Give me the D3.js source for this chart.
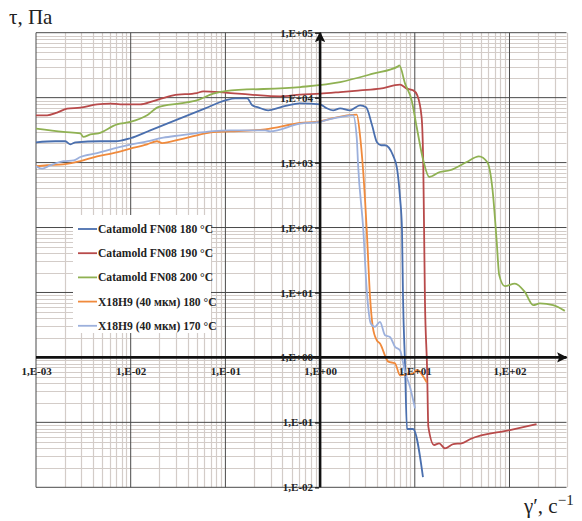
<!DOCTYPE html>
<html>
<head>
<meta charset="utf-8">
<script src="https://cdn.jsdelivr.net/npm/d3@7"></script>
<style>
  body { margin: 0; background: #fff; }
  .tick text { font-family: 'Liberation Serif', serif; font-weight: bold; font-size: 11px; fill: #222; }
</style>
</head>
<body>
<div class="canvas"></div>
<script>
// tick labels
const xTickValues = [1e-3, 1e-2, 1e-1, 1, 1e1, 1e2];
const xTickLabels = ['1,E-03', '1,E-02', '1,E-01', '1,E+00', '1,E+01', '1,E+02'];
const yTickValues = [1e-2, 1e-1, 1, 1e1, 1e2, 1e3, 1e4, 1e5];
const yTickLabels = ['1,E-02', '1,E-01', '1,E+00', '1,E+01', '1,E+02', '1,E+03', '1,E+04', '1,E+05'];

const seriesNames = [
  'Catamold FN08 180 °C',
  'Catamold FN08 190 °C',
  'Catamold FN08 200 °C',
  'X18H9 (40 мкм) 180 °C',
  'X18H9 (40 мкм) 170 °C'
];

// [shear rate 1/s, shear stress Pa]
const catamold180 = [
  [0.001, 2050], [0.0016, 2130], [0.00204, 2130], [0.00231, 1910], [0.00261, 2050],
  [0.00478, 2130], [0.00689, 2130], [0.0099, 2370], [0.0161, 3140], [0.0333, 4800],
  [0.0612, 6840], [0.1, 9080], [0.127, 9750], [0.17, 9750], [0.192, 7620],
  [0.222, 7090], [0.283, 6380], [0.379, 7090], [0.615, 8170], [1.0, 7890],
  [1.13, 7090], [1.37, 6380], [1.63, 6840], [2.07, 6380], [2.64, 7620],
  [3.06, 7090], [3.54, 3750], [3.99, 2050], [4.4, 1850], [4.85, 1850],
  [5.89, 1290], [6.49, 817], [6.98, 292], [7.33, 91], [7.51, 8.5],
  [7.88, 0.82], [8.27, 0.079], [9.57, 0.079], [12.2, 0.0144]
];
const catamold190 = [
  [0.001, 5340], [0.00131, 5340], [0.00167, 5880], [0.00213, 6770], [0.00294, 7020],
  [0.00442, 7890], [0.00609, 8090], [0.00776, 7890], [0.0126, 7890], [0.0173, 8870],
  [0.0281, 10840], [0.05, 11770], [0.0583, 12500], [0.1, 11930], [0.183, 11120],
  [0.379, 10470], [0.615, 11120], [1.0, 11530], [1.63, 12190], [2.64, 12940],
  [4.29, 13750], [6.98, 15850], [8.22, 13750], [9.64, 12940], [10.63, 10840],
  [11.8, 5030], [12.3, 855], [12.8, 7.6], [13.5, 0.64], [13.9, 0.086],
  [16.0, 0.0448], [18.1, 0.0475], [20.8, 0.0398], [25.5, 0.0464], [31.2, 0.0475],
  [38.2, 0.055], [101, 0.076], [193, 0.094]
];
const catamold200 = [
  [0.001, 3330], [0.00195, 2960], [0.00294, 2820], [0.00316, 2480], [0.00375, 2720],
  [0.00455, 2820], [0.00717, 3880], [0.0099, 4220], [0.0149, 5340], [0.0195, 7170],
  [0.0333, 8170], [0.05, 9080], [0.0743, 11530], [0.1, 12640], [0.615, 14550],
  [1.63, 17400], [3.62, 23400], [6.65, 30300], [6.87, 31400], [7.88, 16600],
  [9.27, 9080], [10.47, 3530], [12.3, 1080], [14.2, 600], [18.4, 716],
  [23.5, 762], [35.3, 1020], [47.5, 1250], [58.2, 1020], [66.3, 375],
  [73.1, 64], [77.9, 18.5], [89.4, 12.5], [114, 13.7], [145, 10.2],
  [178, 6.38], [209, 6.77], [289, 6.38], [384, 5.21]
];
const x18h9_180 = [
  [0.001, 880], [0.00131, 910], [0.00195, 940], [0.00294, 1050], [0.00442, 1250],
  [0.00655, 1400], [0.0099, 1640], [0.0149, 1910], [0.0189, 2130], [0.0214, 2000],
  [0.0333, 2280], [0.05, 2630], [0.0743, 2960], [0.112, 3030], [0.263, 3250],
  [0.615, 4070], [1.0, 4320], [1.37, 4850], [2.44, 5470], [2.64, 2630],
  [2.82, 910], [3.11, 91], [3.37, 8.5], [3.6, 2.96], [3.96, 1.85],
  [4.29, 1.64], [5.25, 0.86], [6.18, 0.81], [6.98, 0.53], [8.22, 0.55],
  [9.64, 0.57], [10.47, 0.64], [13.4, 0.41]
];
const x18h9_170 = [
  [0.001, 880], [0.00116, 808], [0.00142, 910], [0.00195, 1050], [0.0025, 1080],
  [0.00294, 1220], [0.00442, 1400], [0.00655, 1640], [0.0099, 1890], [0.0149, 2130],
  [0.0221, 2420], [0.0333, 2630], [0.05, 2850], [0.0743, 3060], [0.112, 3140],
  [0.263, 3140], [0.297, 3030], [0.615, 3980], [1.0, 4220], [1.13, 4480],
  [1.63, 5030], [2.23, 5340], [2.44, 2370], [2.52, 910], [2.86, 91],
  [3.11, 10.8], [3.43, 3.33], [3.8, 2.96], [4.29, 3.53], [4.85, 2.2],
  [5.47, 2.07], [6.18, 1.46], [6.98, 1.29], [7.88, 0.6], [8.9, 0.35],
  [10.05, 0.164]
];

const seriesData = [catamold180, catamold190, catamold200, x18h9_180, x18h9_170];
const colors = ['#4a6fae', '#b84a4a', '#8fb152', '#f08a3c', '#9cb0dc'];

// set up dimensions
const width = 582;
const height = 521;
const plot = { left: 36, right: 566.5, top: 32.7, bottom: 487.3 };

const svg = d3
  .select('.canvas')
  .append('svg')
  .attr('width', width)
  .attr('height', height);

// log scales
const x = d3.scaleLog().domain([1e-3, 400]).range([plot.left, plot.right]);
const y = d3.scaleLog().domain([1e-2, 1e5]).range([plot.bottom, plot.top]);

// minor grid
const grid = svg.append('g').attr('class', 'grid');
const isDecade = v => Math.abs(Math.log10(v) - Math.round(Math.log10(v))) < 1e-6;

grid
  .selectAll('line.vminor')
  .data(x.ticks().filter(v => !isDecade(v)))
  .enter()
  .append('line')
  .attr('x1', d => Math.round(x(d)) + 0.5)
  .attr('x2', d => Math.round(x(d)) + 0.5)
  .attr('y1', plot.top)
  .attr('y2', plot.bottom)
  .attr('stroke', '#d3ccc8')
  .attr('stroke-width', 1.2);

grid
  .selectAll('line.hminor')
  .data(y.ticks().filter(v => !isDecade(v)))
  .enter()
  .append('line')
  .attr('x1', plot.left)
  .attr('x2', plot.right)
  .attr('y1', d => Math.round(y(d)) + 0.5)
  .attr('y2', d => Math.round(y(d)) + 0.5)
  .attr('stroke', '#d3ccc8')
  .attr('stroke-width', 1.2);

// major grid
grid
  .selectAll('line.vmajor')
  .data(xTickValues)
  .enter()
  .append('line')
  .attr('x1', d => x(d))
  .attr('x2', d => x(d))
  .attr('y1', plot.top)
  .attr('y2', plot.bottom)
  .attr('stroke', '#4a4a4a')
  .attr('stroke-width', 1);

grid
  .selectAll('line.hmajor')
  .data(yTickValues)
  .enter()
  .append('line')
  .attr('x1', plot.left)
  .attr('x2', plot.right)
  .attr('y1', d => y(d))
  .attr('y2', d => y(d))
  .attr('stroke', '#4a4a4a')
  .attr('stroke-width', 1);

// series lines
const line = d3
  .line()
  .x(d => x(d[0]))
  .y(d => y(d[1]))
  .curve(d3.curveMonotoneX);

svg
  .append('g')
  .selectAll('path')
  .data(seriesData)
  .enter()
  .append('path')
  .attr('fill', 'none')
  .attr('stroke', (d, i) => colors[i])
  .attr('stroke-width', 1.8)
  .attr('stroke-linejoin', 'round')
  .attr('d', line);

// axes lines through 1,E+00 with arrows
const defs = svg.append('defs');
defs
  .append('marker')
  .attr('id', 'arrow')
  .attr('viewBox', '0 0 10 10')
  .attr('refX', 9)
  .attr('refY', 5)
  .attr('markerWidth', 4)
  .attr('markerHeight', 4)
  .attr('markerUnits', 'strokeWidth')
  .attr('orient', 'auto')
  .append('path')
  .attr('d', 'M0,0 L10,5 L0,10 L2,5 Z')
  .attr('fill', '#111');

svg
  .append('line')
  .attr('x1', plot.left)
  .attr('x2', plot.right)
  .attr('y1', y(1))
  .attr('y2', y(1))
  .attr('stroke', '#111')
  .attr('stroke-width', 2.6)
  .attr('marker-end', 'url(#arrow)');

svg
  .append('line')
  .attr('x1', x(1))
  .attr('x2', x(1))
  .attr('y1', plot.bottom)
  .attr('y2', plot.top)
  .attr('stroke', '#111')
  .attr('stroke-width', 2.6)
  .attr('marker-end', 'url(#arrow)');

// tick labels
const yAxis = d3
  .axisLeft(y)
  .tickValues(yTickValues)
  .tickSize(4)
  .tickPadding(2)
  .tickFormat((d, i) => yTickLabels[i]);
const yAxisGroup = svg
  .append('g')
  .attr('class', 'y-axis')
  .attr('transform', `translate(${x(1) - 1}, 0)`)
  .call(yAxis);
yAxisGroup.select('.domain').remove();
yAxisGroup.selectAll('line').attr('stroke', '#222').attr('stroke-width', 1.5);

const xAxis = d3
  .axisBottom(x)
  .tickValues(xTickValues)
  .tickSize(0)
  .tickPadding(10)
  .tickFormat((d, i) => xTickLabels[i]);
const xAxisGroup = svg
  .append('g')
  .attr('class', 'x-axis')
  .attr('transform', `translate(0, ${y(1)})`)
  .call(xAxis);
xAxisGroup.select('.domain').remove();

// legend
const legend = svg.append('g').attr('transform', 'translate(73, 215)');
legend
  .append('rect')
  .attr('width', 138)
  .attr('height', 118)
  .attr('fill', '#fff');

const items = legend
  .selectAll('g')
  .data(seriesNames)
  .enter()
  .append('g')
  .attr('transform', (d, i) => `translate(0, ${14 + i * 24.2})`);

items
  .append('line')
  .attr('x1', 5)
  .attr('x2', 24)
  .attr('stroke', (d, i) => colors[i])
  .attr('stroke-width', 1.8);

items
  .append('text')
  .attr('x', 25)
  .attr('dy', '0.35em')
  .attr('font-family', 'Liberation Serif, serif')
  .attr('font-weight', 'bold')
  .attr('font-size', '11.6px')
  .attr('fill', '#222')
  .text(d => d);

// axis titles
svg
  .append('text')
  .attr('x', 9)
  .attr('y', 24)
  .attr('font-family', 'Liberation Serif, serif')
  .attr('font-size', '21px')
  .attr('fill', '#222')
  .text('τ, Па');

const xTitle = svg
  .append('text')
  .attr('x', 524)
  .attr('y', 513)
  .attr('font-family', 'Liberation Serif, serif')
  .attr('font-size', '21px')
  .attr('fill', '#222');
xTitle.append('tspan').text('γ′, c');
xTitle.append('tspan').attr('dy', -8).attr('font-size', '15px').text('−1');
</script>
</body>
</html>
